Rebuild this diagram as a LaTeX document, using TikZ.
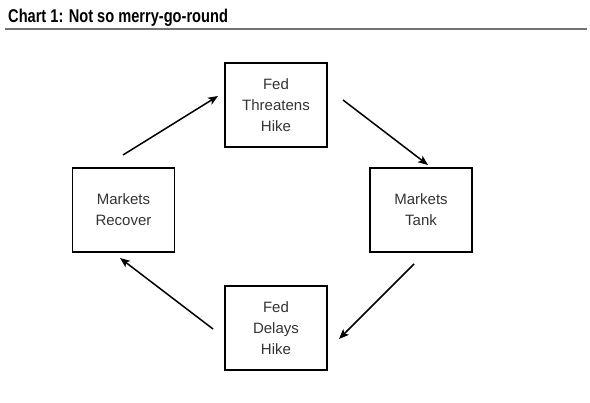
\documentclass[tikz,border=0pt]{standalone}
\usepackage{fontspec}
\setmainfont{Liberation Sans}
\usetikzlibrary{arrows.meta}
\begin{document}
\begin{tikzpicture}[x=1pt,y=-1pt,
  box/.style={draw=black,line width=1.2pt,minimum width=102pt,minimum height=84pt,inner sep=0pt,align=center,font=\fontsize{15}{21}\selectfont,text=black!80},
  conn/.style={line width=1.5pt,-{Stealth[length=10pt,width=8pt,inset=2.5pt]}}]
\useasboundingbox (0,0) rectangle (590,403);
\node[anchor=base west,inner sep=0pt] (title) at (8,23) {\scalebox{0.79}[1]{\bfseries\fontsize{18.5}{20}\selectfont Chart 1: Not so merry-go-round}};
\draw[line width=1.5pt,black!55] (5,29) -- (587,29);
\node[box] (ft) at (276,105) {Fed\\Threatens\\Hike};
\node[box] (mt) at (421,210) {Markets\\Tank};
\node[box] (fd) at (276,328) {Fed\\Delays\\Hike};
\node[box] (mr) at (123.5,210) {Markets\\Recover};
\coordinate (a1) at (123,155); \coordinate (a2) at (218,96);
\coordinate (b1) at (343,100); \coordinate (b2) at (428,165);
\coordinate (c1) at (414,264); \coordinate (c2) at (339,339);
\coordinate (d1) at (213,329); \coordinate (d2) at (120,258);
\draw[conn] (a1) -- (a2);
\draw[conn] (b1) -- (b2);
\draw[conn] (c1) -- (c2);
\draw[conn] (d1) -- (d2);
\end{tikzpicture}
\end{document}
